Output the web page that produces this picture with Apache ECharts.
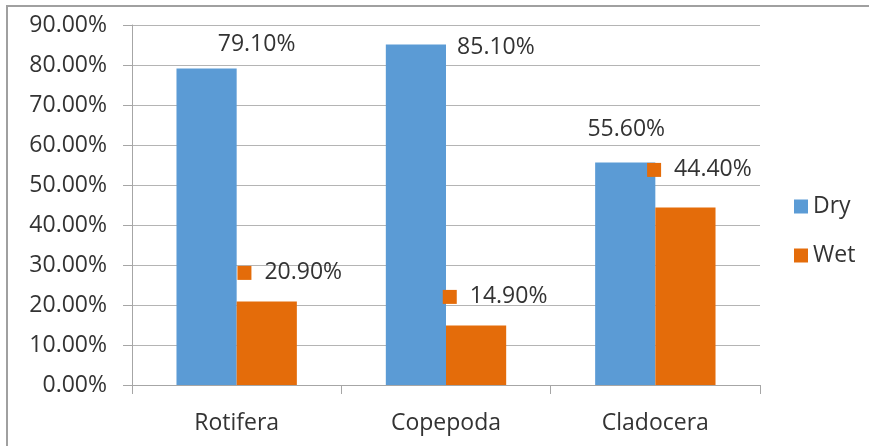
<!DOCTYPE html>
<html lang="en">
<head>
    <meta charset="UTF-8">
    <title>Dry vs Wet</title>
    <style>
        * { margin: 0; padding: 0; }
        body { background: #fff; }
        #frame {
            position: absolute;
            left: 6px; top: 5px;
            width: 863px; height: 441px;
            border-left: 2px solid #a0a0a0;
            border-top: 2px solid #a0a0a0;
        }
        #chart-container {
            position: absolute;
            left: 0; top: 0;
            width: 869px; height: 446px;
        }
    </style>
</head>
<body>
    <div id="frame"></div>
    <div id="chart-container"></div>
    <script src="https://cdn.jsdelivr.net/npm/echarts@6/dist/echarts.min.js"></script>
    <script>
        var categories = ['Rotifera', 'Copepoda', 'Cladocera'];
        var dryValues = [79.1, 85.1, 55.6];
        var wetValues = [20.9, 14.9, 44.4];
        var yTicks = { min: 0, max: 90, step: 10 };

        // label nudges, the labels were dragged around by hand in the original
        var dryLabelOffsets = [[50, -8], [80, 19], [1, -17]];
        var wetLabelOffsets = [[23, -12], [19, -12], [14, -21]];

        var FONT = 'Open Sans';
        var TEXT = '#333333';
        var BLUE = '#5B9BD5';
        var ORANGE = '#E46C0A';

        var dom = document.getElementById('chart-container');
        var myChart = echarts.init(dom, null, { renderer: 'canvas' });

        function fmt(v) { return v.toFixed(2) + '%'; }

        var option = {
            animation: false,
            textStyle: { fontFamily: FONT },
            grid: { left: 132, top: 25, right: 109, bottom: 61 },
            legend: {
                orient: 'vertical',
                left: 789,
                top: 190,
                itemWidth: 14,
                itemHeight: 14,
                itemGap: 26,
                icon: 'rect',
                textStyle: { fontFamily: FONT, fontSize: 23, color: TEXT, lineHeight: 22 },
                data: ['Dry', 'Wet']
            },
            xAxis: {
                type: 'category',
                data: categories,
                axisLine: { lineStyle: { color: '#a6a6a6', width: 1 } },
                axisTick: { show: true, length: 9, lineStyle: { color: '#a6a6a6' } },
                axisLabel: { margin: 27, fontSize: 23, color: TEXT, fontFamily: FONT }
            },
            yAxis: {
                type: 'value',
                min: yTicks.min,
                max: yTicks.max,
                interval: yTicks.step,
                axisLine: { show: true, lineStyle: { color: '#a6a6a6', width: 1 } },
                axisTick: { show: true, length: 9, lineStyle: { color: '#a6a6a6' } },
                splitLine: { lineStyle: { color: '#b4b4b4', width: 1 } },
                axisLabel: {
                    margin: 25, fontSize: 23, color: TEXT, fontFamily: FONT,
                    formatter: function (v) { return fmt(v); }
                }
            },
            series: [
                {
                    name: 'Dry',
                    type: 'bar',
                    barGap: '0%',
                    barCategoryGap: '42.5%',
                    itemStyle: { color: BLUE },
                    data: dryValues.map(function (v, i) {
                        return {
                            value: v,
                            label: { offset: dryLabelOffsets[i] }
                        };
                    }),
                    label: {
                        show: true,
                        position: 'top',
                        fontSize: 23,
                        color: TEXT,
                        fontFamily: FONT,
                        formatter: function (p) { return fmt(p.value); }
                    }
                },
                {
                    name: 'Wet',
                    type: 'bar',
                    barGap: '0%',
                    barCategoryGap: '42.5%',
                    itemStyle: { color: ORANGE },
                    data: wetValues.map(function (v, i) {
                        return {
                            value: v,
                            label: { offset: wetLabelOffsets[i] }
                        };
                    }),
                    label: {
                        show: true,
                        position: 'top',
                        fontSize: 23,
                        color: TEXT,
                        fontFamily: FONT,
                        formatter: function (p) { return '{sq|}{t|' + fmt(p.value) + '}'; },
                        rich: {
                            sq: { width: 14, height: 14, backgroundColor: ORANGE },
                            t: { fontSize: 23, color: TEXT, fontFamily: FONT, padding: [0, 0, 0, 13] }
                        }
                    }
                }
            ]
        };

        myChart.setOption(option);
        window.addEventListener('resize', myChart.resize);
    </script>
</body>
</html>
